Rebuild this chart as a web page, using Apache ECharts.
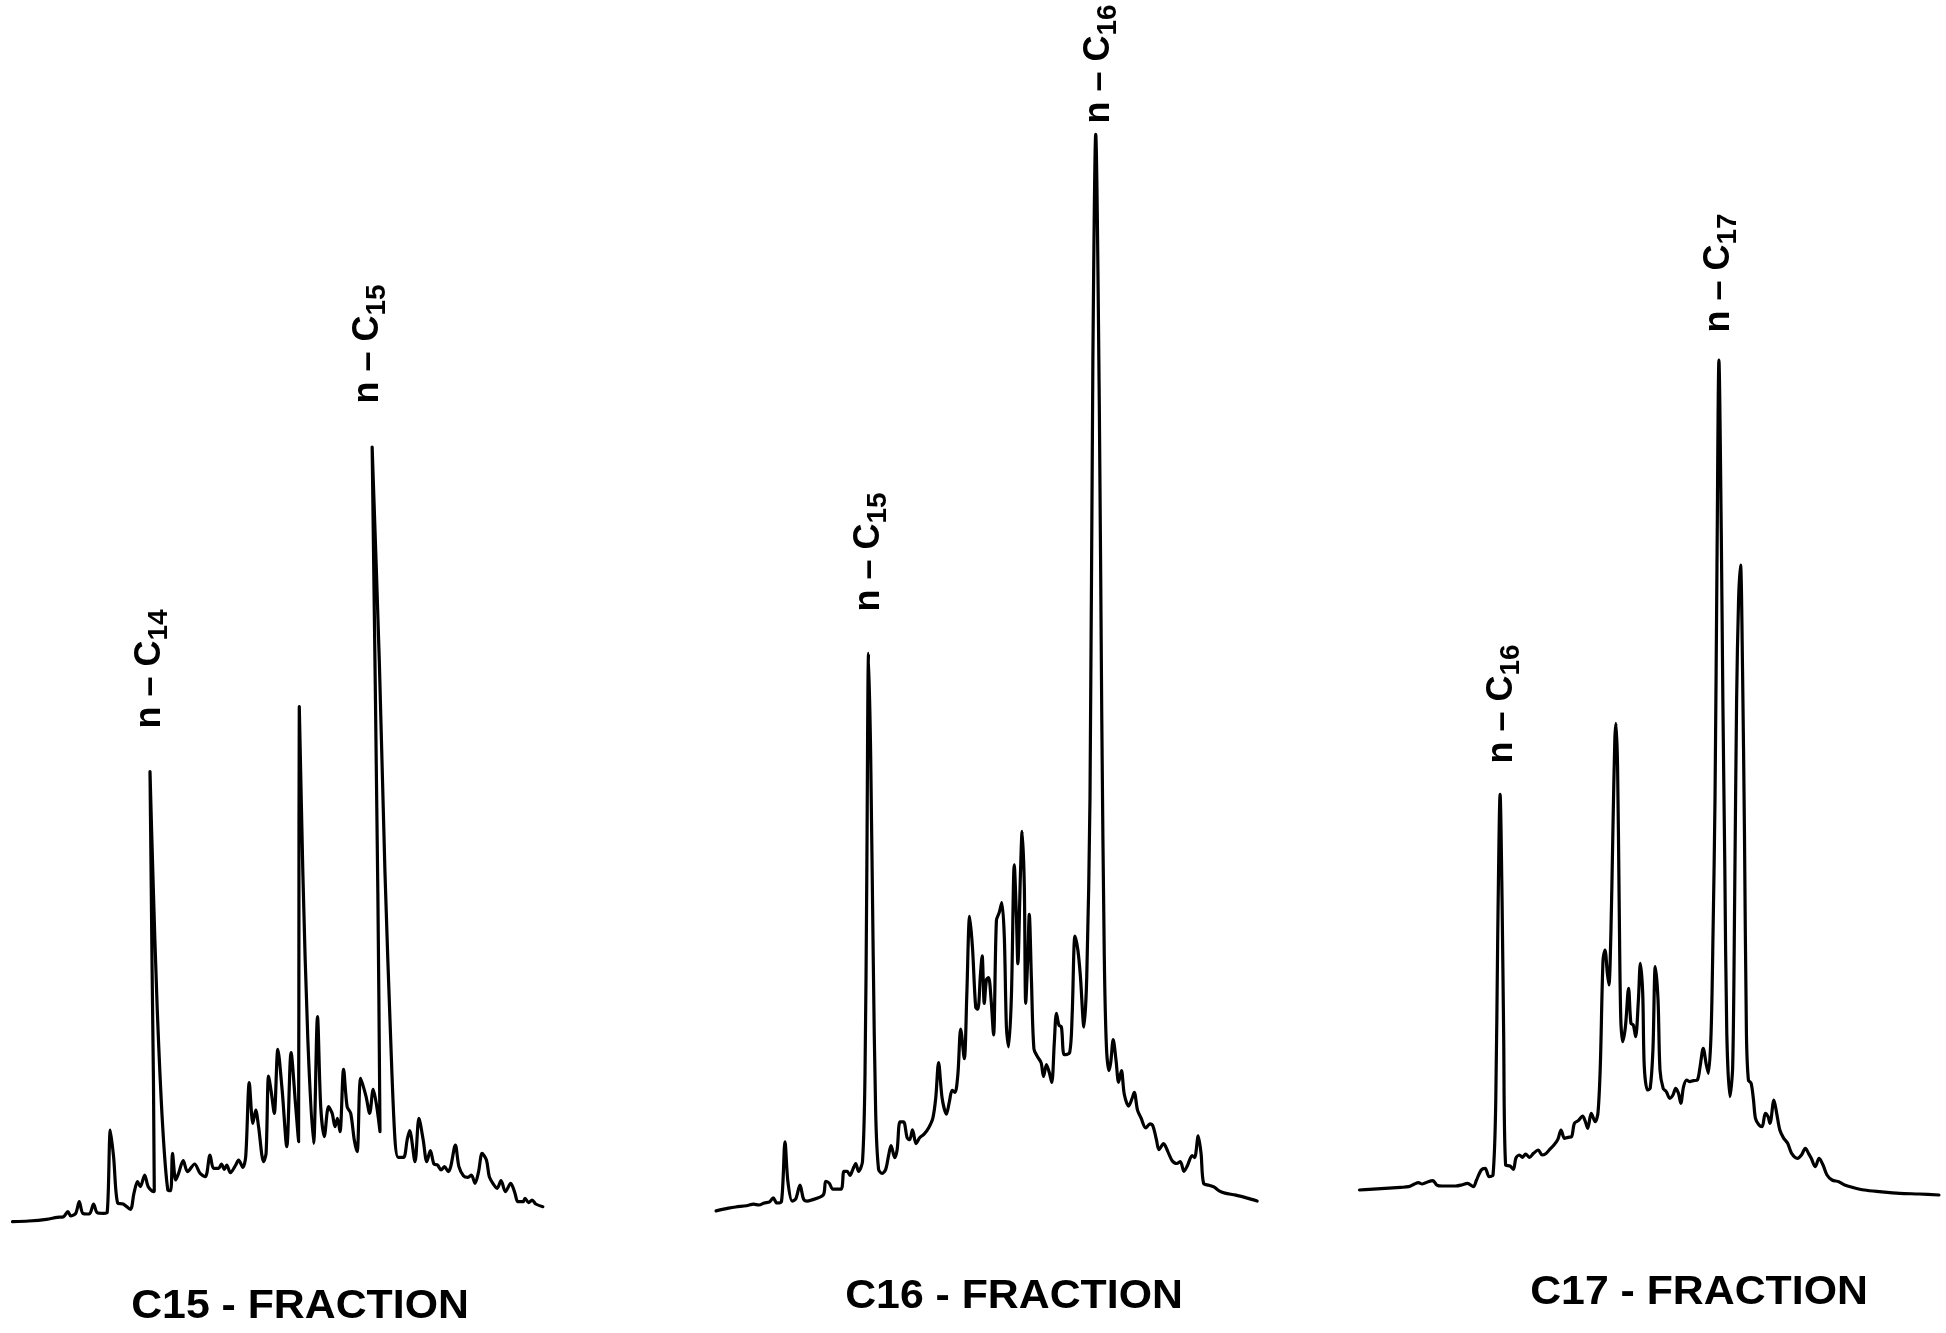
<!DOCTYPE html>
<html>
<head>
<meta charset="utf-8">
<script src="https://cdn.jsdelivr.net/npm/echarts@6/dist/echarts.min.js"></script>
<style>html,body{margin:0;padding:0;background:#fff;}#c{width:1946px;height:1333px;}</style>
</head>
<body>
<div id="c"></div>
<script>
// Chromatogram traces: [retention (arbitrary units), detector response (arbitrary units)]
const c15Fraction = [
[35,15],[80,17],[130,22],[160,28],[178,30],[190,45],[198,32],[212,40],[222,75],[232,40],[250,38],[262,68],[272,42],[290,40],[300,42],
[309,290],[318,210],[330,70],[345,68],[365,52],[375,100],[385,135],[393,120],[405,155],[415,120],[430,105],
[432,110],[426,760],[420,1365],[428,1060],[440,660],[455,310],[470,110],
[478,108],[483,220],[492,140],[500,160],[513,198],[525,165],[545,188],[560,160],[575,150],[588,215],[598,175],[612,175],[620,188],[628,172],[635,185],[645,162],[660,185],[668,200],[680,178],[688,210],
[698,432],[708,310],[716,350],[724,300],[738,195],[745,220],[752,452],[760,400],[768,340],[778,532],[790,410],[803,240],[815,522],[828,360],[836,255],
[837,960],[838,1560],[848,1060],[862,560],[878,250],
[889,630],[898,360],[908,270],[920,360],[930,340],[938,300],[945,325],[952,285],[962,472],[972,360],[982,340],[992,260],[1000,225],[1010,445],[1025,390],[1035,340],[1045,412],[1055,360],[1064,285],
[1058,1000],[1042,2339],[1062,1700],[1078,1060],[1094,560],[1106,260],[1115,208],
[1130,208],[1140,260],[1147,288],[1162,195],[1173,325],[1185,260],[1195,195],[1205,228],[1215,188],[1225,185],[1235,170],[1245,180],[1255,165],[1262,180],[1275,245],[1285,180],[1298,152],[1310,148],[1320,155],[1330,130],[1340,165],[1350,220],[1362,200],[1370,150],[1380,130],[1392,115],[1403,138],[1415,105],[1430,130],[1442,100],[1450,75],[1465,75],[1470,85],[1480,72],[1490,80],[1500,68],[1520,60]
];
const c16Fraction = [
[45,5],[80,12],[100,15],[130,18],[150,22],[165,20],[180,25],[195,28],[205,38],[215,25],[228,28],[238,180],[246,80],[258,30],[268,35],[280,70],[290,35],[300,30],[310,32],[345,45],[352,80],[362,75],[372,60],[395,60],[403,105],[412,105],[420,95],[428,110],[436,125],[444,105],[455,130],
[462,350],[467,850],[472,1415],[478,1150],[485,650],[492,250],[500,110],
[510,100],[520,110],[528,145],[535,170],[545,140],[552,160],[560,230],[570,230],[580,190],[587,185],[595,210],[605,175],[615,190],[628,200],[640,215],[652,240],[660,290],[668,380],[678,290],[690,250],[698,280],[706,310],[714,305],[722,350],[730,465],[740,390],[747,550],[755,750],[763,670],[772,520],[778,515],[785,600],[790,650],[796,530],[802,590],[808,595],[815,540],[822,450],[830,740],[838,760],[845,785],[852,700],[858,470],[864,420],[872,550],[880,880],[886,750],[890,630],[897,850],[902,965],[908,830],[912,530],[918,650],[922,755],[928,590],[935,415],[945,395],[955,380],[962,345],[970,375],[978,355],[985,330],[992,430],[998,505],[1005,475],[1012,470],[1020,400],[1035,405],[1042,500],[1050,700],[1058,665],[1065,600],[1075,470],[1083,600],
[1092,1050],[1100,2150],[1108,2728],[1118,2050],[1125,1250],[1132,650],[1138,420],
[1145,360],[1150,380],[1157,438],[1165,385],[1172,330],[1180,360],[1188,300],[1200,270],[1210,290],[1216,305],[1225,260],[1235,240],[1248,215],[1260,225],[1268,220],[1278,185],[1285,160],[1298,175],[1310,155],[1322,132],[1335,125],[1345,130],[1355,105],[1365,120],[1378,145],[1385,140],[1395,195],[1403,150],[1410,75],[1425,70],[1440,65],[1455,55],[1470,50],[1500,45],[1530,38],[1560,30]
];
const c17Fraction = [
[75,20],[100,22],[140,25],[180,28],[200,30],[215,38],[225,42],[235,38],[250,45],[262,48],[272,35],[285,32],[320,32],[335,35],[350,40],[365,30],[373,50],[385,80],[395,85],[405,60],[415,65],
[422,290],[427,790],[433,1207],[438,890],[442,490],[447,95],
[458,92],[467,82],[473,115],[482,125],[490,118],[498,128],[508,118],[518,130],[530,140],[540,125],[548,128],[558,140],[570,155],[580,172],[588,200],[597,175],[606,178],[615,180],[622,220],[632,228],[643,242],[650,225],[656,205],[665,250],[675,225],[682,250],
[688,390],[695,710],[700,740],[706,670],[710,635],[715,790],[720,1090],[725,1370],[728,1420],[732,1290],[736,890],[740,540],[745,465],[752,510],[760,625],[766,520],[772,515],[778,480],[785,590],[790,700],[796,610],[800,390],[808,320],[815,325],[822,440],[828,690],[835,590],[840,380],[848,325],[856,315],[865,295],[873,305],[880,325],[887,310],[893,280],[900,330],[908,350],[916,345],[925,348],[935,350],[942,390],[950,445],[958,395],[963,370],
[970,490],[975,790],[980,1190],[985,1890],[990,2510],[996,1990],[1000,1490],[1005,990],[1010,490],[1018,300],[1025,390],[1030,890],[1035,1490],[1040,1790],[1045,1895],[1050,1590],[1055,1090],[1060,490],[1065,350],
[1072,340],[1078,290],[1083,235],[1092,215],[1100,210],[1108,250],[1115,240],[1120,220],[1130,290],[1137,250],[1145,200],[1155,175],[1165,160],[1175,130],[1190,115],[1200,125],[1210,145],[1218,130],[1225,115],[1235,90],[1245,115],[1255,95],[1265,65],[1278,50],[1295,45],[1310,35],[1330,28],[1360,20],[1400,15],[1450,10],[1500,8],[1550,5]
];
const fractionTitles = ['C15 - FRACTION', 'C16 - FRACTION', 'C17 - FRACTION'];
const peakLabels = [
  {base: 'n – C', sub: '14'},
  {base: 'n – C', sub: '15'},
  {base: 'n – C', sub: '15'},
  {base: 'n – C', sub: '16'},
  {base: 'n – C', sub: '16'},
  {base: 'n – C', sub: '17'}
];

const chart = echarts.init(document.getElementById('c'), null, {renderer: 'canvas'});
const traces = [c15Fraction, c16Fraction, c17Fraction];
const grids = [
  {left: 0, top: 426.67, width: 560, height: 800},
  {left: 700, top: 105.8, width: 560, height: 1107.1},
  {left: 1330, top: 296.67, width: 616, height: 900}
];
const yMax = [2400, 2800, 2700];
const labelPos = [[150, 669], [368, 344], [869, 552], [1099, 64], [1502, 704], [1719, 273]];
const titlePos = [[300, 1307], [1014, 1297], [1699, 1293]];

const fontFam = '"Liberation Sans", Arial, Helvetica, sans-serif';
const graphics = [];
peakLabels.forEach((p, i) => {
  graphics.push({
    type: 'text', x: labelPos[i][0], y: labelPos[i][1], rotation: Math.PI / 2,
    style: {
      text: '{a|' + p.base + '}{s|' + p.sub + '}',
      align: 'center', verticalAlign: 'middle',
      rich: {
        a: {fontSize: 36, fontWeight: 'bold', fontFamily: fontFam, fill: '#000', lineHeight: 46, verticalAlign: 'middle'},
        s: {fontSize: 28, fontWeight: 'bold', fontFamily: fontFam, fill: '#000', lineHeight: 30, verticalAlign: 'bottom'}
      }
    }
  });
});
fractionTitles.forEach((t, i) => {
  graphics.push({
    type: 'text', x: titlePos[i][0], y: titlePos[i][1], scaleX: 1.07,
    style: {text: t, align: 'center', verticalAlign: 'middle', fontSize: 40, fontWeight: 'bold', fontFamily: fontFam, fill: '#000'}
  });
});

chart.setOption({
  animation: false,
  backgroundColor: '#fff',
  grid: grids,
  xAxis: grids.map((g, i) => ({type: 'value', gridIndex: i, min: 0, max: 1568, show: false})),
  yAxis: grids.map((g, i) => ({type: 'value', gridIndex: i, min: 0, max: yMax[i], show: false})),
  series: traces.map((d, i) => ({
    type: 'line', xAxisIndex: i, yAxisIndex: i, data: d, showSymbol: false, symbol: 'none',
    clip: false, smooth: 0.3,
    lineStyle: {color: '#000', width: 3.2, join: 'round', cap: 'round'}
  })),
  graphic: graphics
});
</script>
</body>
</html>
